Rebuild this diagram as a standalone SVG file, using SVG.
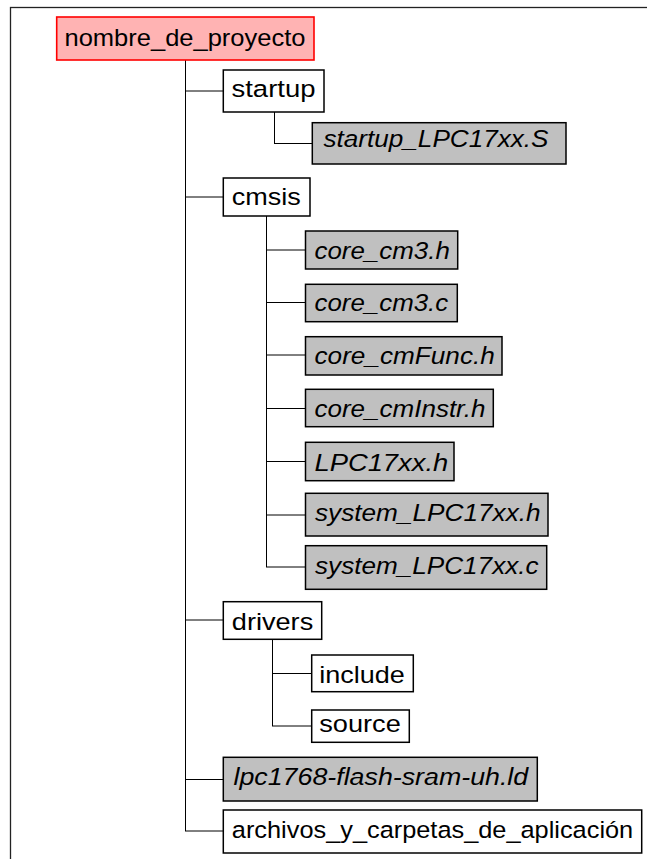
<svg xmlns="http://www.w3.org/2000/svg" width="647" height="859" viewBox="0 0 647 859">
<style>
.box{fill:#ffffff;stroke:#000000;stroke-width:1.5}
.file{fill:#c0c0c0;stroke:#000000;stroke-width:1.5}
.root{fill:#ffb3b3;stroke:#ff0000;stroke-width:1.6}
.t{font-family:"Liberation Sans",Arial,Helvetica,sans-serif;font-size:24.5px;fill:#000000}
.i{font-style:italic}
.c line{stroke:#000000;stroke-width:1}
.frame{fill:none;stroke:#222222;stroke-width:1.3}
</style>
<rect class="frame" x="10.5" y="7.5" width="700" height="900"/>
<g class="c" id="connectors">
<line x1="185.5" y1="60" x2="185.5" y2="831"/>
<line x1="185" y1="91" x2="223.5" y2="91"/>
<line x1="185" y1="197" x2="223.5" y2="197"/>
<line x1="185" y1="620" x2="223.5" y2="620"/>
<line x1="185" y1="779.5" x2="223.5" y2="779.5"/>
<line x1="185" y1="831" x2="223.5" y2="831"/>
<line x1="274.5" y1="112" x2="274.5" y2="143.5"/>
<line x1="274" y1="143.5" x2="312.5" y2="143.5"/>
<line x1="266.5" y1="216" x2="266.5" y2="567"/>
<line x1="266" y1="250" x2="305.5" y2="250"/>
<line x1="266" y1="302.5" x2="305.5" y2="302.5"/>
<line x1="266" y1="355" x2="305.5" y2="355"/>
<line x1="266" y1="408.5" x2="305.5" y2="408.5"/>
<line x1="266" y1="461.5" x2="305.5" y2="461.5"/>
<line x1="266" y1="515" x2="305.5" y2="515"/>
<line x1="266" y1="567" x2="305.5" y2="567"/>
<line x1="272.5" y1="639" x2="272.5" y2="726"/>
<line x1="272" y1="673.5" x2="311.7" y2="673.5"/>
<line x1="272" y1="726" x2="311.7" y2="726"/>
</g>
<g id="n_root"><rect class="root" x="56.7" y="17" width="257.3" height="43"/><text class="t" x="64.5" y="45.5" textLength="241" lengthAdjust="spacingAndGlyphs">nombre_de_proyecto</text></g>
<g id="n_startup"><rect class="box" x="223.3" y="70" width="100.7" height="42"/><text class="t" x="231.5" y="97" textLength="84" lengthAdjust="spacingAndGlyphs">startup</text></g>
<g id="n_startup_s"><rect class="file" x="312.3" y="122.7" width="253.7" height="41.3"/><text class="t i" x="323.5" y="147" textLength="225" lengthAdjust="spacingAndGlyphs">startup_LPC17xx.S</text></g>
<g id="n_cmsis"><rect class="box" x="223.3" y="178" width="86.7" height="38"/><text class="t" x="231.8" y="205.3" textLength="69" lengthAdjust="spacingAndGlyphs">cmsis</text></g>
<g id="n_core_cm3_h"><rect class="file" x="305.5" y="231" width="152.2" height="38"/><text class="t i" x="314.5" y="258.5" textLength="135.3" lengthAdjust="spacingAndGlyphs">core_cm3.h</text></g>
<g id="n_core_cm3_c"><rect class="file" x="305.5" y="284.3" width="151.8" height="37.4"/><text class="t i" x="314.5" y="311" textLength="133.7" lengthAdjust="spacingAndGlyphs">core_cm3.c</text></g>
<g id="n_core_cmFunc"><rect class="file" x="305.5" y="336.7" width="196.5" height="38.3"/><text class="t i" x="314.5" y="363.5" textLength="180.3" lengthAdjust="spacingAndGlyphs">core_cmFunc.h</text></g>
<g id="n_core_cmInstr"><rect class="file" x="305.5" y="389.3" width="187.8" height="37.4"/><text class="t i" x="314.5" y="416.7" textLength="171" lengthAdjust="spacingAndGlyphs">core_cmInstr.h</text></g>
<g id="n_lpc17xx_h"><rect class="file" x="305.5" y="442.3" width="148.5" height="38.4"/><text class="t i" x="314.5" y="471" textLength="133.7" lengthAdjust="spacingAndGlyphs">LPC17xx.h</text></g>
<g id="n_system_h"><rect class="file" x="305.5" y="493.3" width="242.5" height="42.7"/><text class="t i" x="315" y="521" textLength="225.6" lengthAdjust="spacingAndGlyphs">system_LPC17xx.h</text></g>
<g id="n_system_c"><rect class="file" x="305.5" y="545.7" width="241.2" height="43.6"/><text class="t i" x="315" y="574" textLength="223.6" lengthAdjust="spacingAndGlyphs">system_LPC17xx.c</text></g>
<g id="n_drivers"><rect class="box" x="223.3" y="601.7" width="98.4" height="37.6"/><text class="t" x="231.8" y="629.5" textLength="81.4" lengthAdjust="spacingAndGlyphs">drivers</text></g>
<g id="n_include"><rect class="box" x="311.7" y="655" width="101.6" height="36.7"/><text class="t" x="319.2" y="682.7" textLength="85.6" lengthAdjust="spacingAndGlyphs">include</text></g>
<g id="n_source"><rect class="box" x="311.7" y="710" width="97.6" height="32.3"/><text class="t" x="319.2" y="731.7" textLength="81.6" lengthAdjust="spacingAndGlyphs">source</text></g>
<g id="n_ld"><rect class="file" x="223.3" y="757.3" width="314" height="43.7"/><text class="t i" x="233.5" y="784.5" textLength="294.7" lengthAdjust="spacingAndGlyphs">lpc1768-flash-sram-uh.ld</text></g>
<g id="n_app"><rect class="box" x="223.3" y="810" width="418.4" height="43"/><text class="t" x="231.8" y="838.3" textLength="401.4" lengthAdjust="spacingAndGlyphs">archivos_y_carpetas_de_aplicación</text></g>
</svg>
